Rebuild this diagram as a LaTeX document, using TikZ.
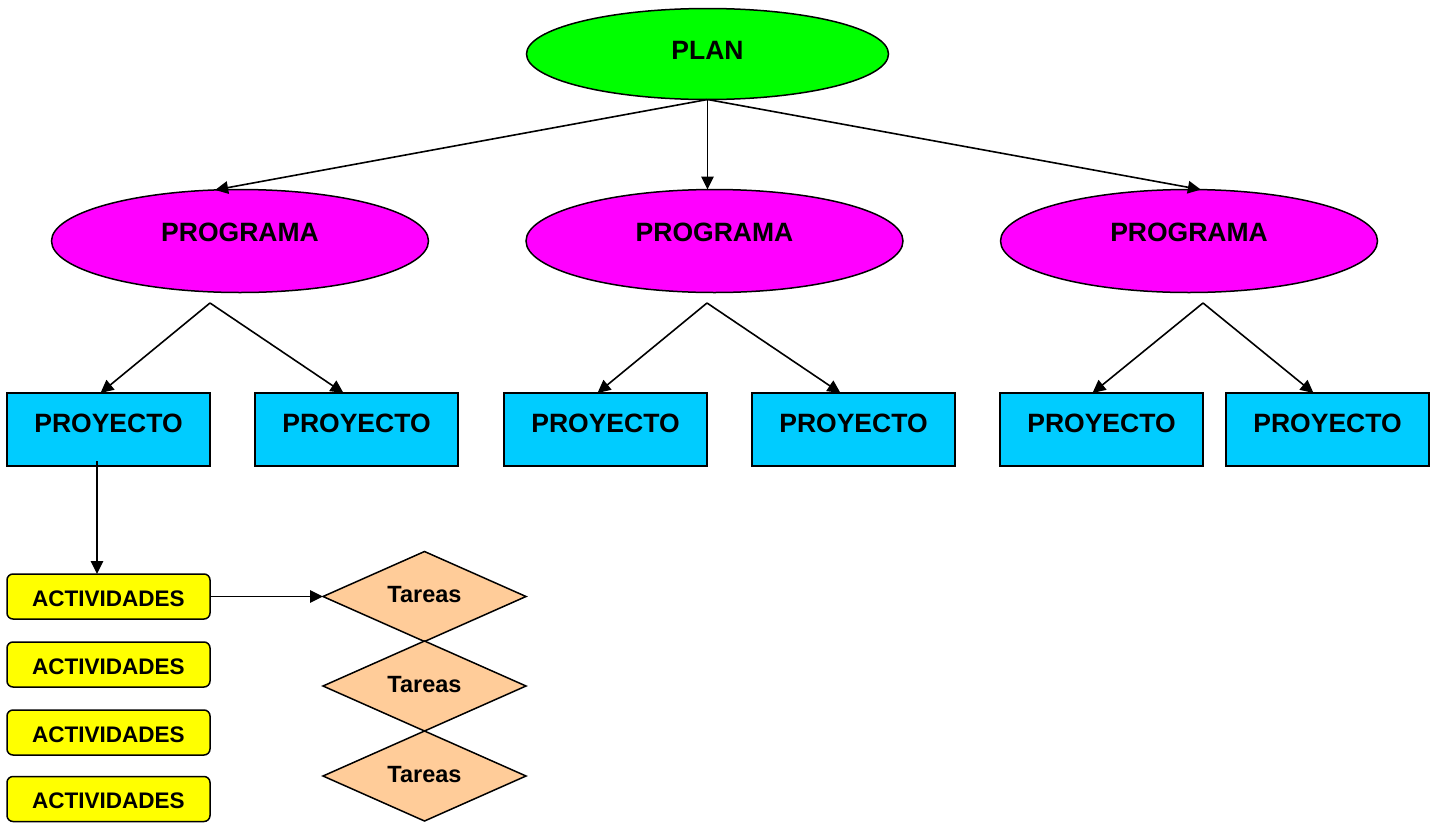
\documentclass[tikz,border=0pt]{standalone}
\usepackage{fontspec}
\setmainfont{Liberation Sans}
\usetikzlibrary{shapes.geometric,arrows.meta,calc}
\definecolor{plangreen}{RGB}{0,255,0}
\definecolor{progmag}{RGB}{255,0,255}
\definecolor{proycyan}{RGB}{0,204,255}
\definecolor{actyellow}{RGB}{255,255,0}
\definecolor{tarpeach}{RGB}{255,204,153}
\tikzset{
  shp/.style={draw=black, line width=1.5pt, inner sep=0pt, outer sep=0pt},
  planshape/.style={shp, ellipse, fill=plangreen, minimum width=362pt, minimum height=91pt},
  progshape/.style={shp, ellipse, fill=progmag, minimum width=377pt, minimum height=103pt},
  proyshape/.style={shp, rectangle, fill=proycyan, minimum width=203pt, minimum height=73pt},
  actshape/.style={shp, rectangle, rounded corners=6pt, fill=actyellow, minimum width=203pt, minimum height=45pt},
  tarshape/.style={shp, diamond, fill=tarpeach, minimum width=203pt, minimum height=90pt},
  bigtxt/.style={inner sep=0pt, font=\fontsize{26.5pt}{30pt}\selectfont\bfseries},
  midtxt/.style={inner sep=0pt, font=\fontsize{22.5pt}{26pt}\selectfont\bfseries},
  tartxt/.style={inner sep=0pt, font=\fontsize{23.5pt}{27pt}\selectfont\bfseries},
  conn/.style={line width=1.6pt, -{Triangle[length=13pt,width=12.5pt]}},
}
\begin{document}
\begin{tikzpicture}[x=1pt,y=1pt]
\useasboundingbox (0,0) rectangle (1437,-822);
% PLAN
\node[planshape] (plan) at (707.5,-54) {};
\node[bigtxt] (plan-t) at (707.5,-50) {PLAN};
% PROGRAMAS
\node[progshape] (prog1) at (240,-241) {};
\node[progshape] (prog2) at (714.5,-241) {};
\node[progshape] (prog3) at (1189,-241) {};
\node[bigtxt] (prog1-t) at (240,-232) {PROGRAMA};
\node[bigtxt] (prog2-t) at (714.5,-232) {PROGRAMA};
\node[bigtxt] (prog3-t) at (1189,-232) {PROGRAMA};
% PROYECTOS
\node[proyshape] (p1) at (108.5,-429.5) {};
\node[proyshape] (p2) at (356.5,-429.5) {};
\node[proyshape] (p3) at (605.5,-429.5) {};
\node[proyshape] (p4) at (853.5,-429.5) {};
\node[proyshape] (p5) at (1101.5,-429.5) {};
\node[proyshape] (p6) at (1327.5,-429.5) {};
\foreach \i/\x in {1/108.5,2/356.5,3/605.5,4/853.5,5/1101.5,6/1327.5}
  \node[bigtxt] (p\i-t) at (\x,-423) {PROYECTO};
% ACTIVIDADES
\node[actshape] (a1) at (108.5,-596.5) {};
\node[actshape] (a2) at (108.5,-664.5) {};
\node[actshape] (a3) at (108.5,-732.5) {};
\node[actshape] (a4) at (108.5,-799) {};
\foreach \i/\y in {1/-598.5,2/-666.5,3/-734.5,4/-801}
  \node[midtxt] (a\i-t) at (108.5,\y) {ACTIVIDADES};
% TAREAS
\node[tarshape] (t1) at (424.5,-596.5) {};
\node[tarshape] (t2) at (424.5,-686) {};
\node[tarshape] (t3) at (424.5,-776) {};
\foreach \i/\y in {1/-594.5,2/-684.5,3/-774.5}
  \node[tartxt] (t\i-t) at (424.5,\y) {Tareas};
% connectors
\draw[conn] (plan.south) -- (prog1.116);
\draw[conn] (plan.south) -- (prog2.north -| plan.south);
\draw[conn] (plan.south) -- (prog3.77);
\coordinate (g1) at (210,-303);
\coordinate (g2) at (707,-303);
\coordinate (g3) at (1203,-303);
\draw[conn] (g1) -- ($(p1.north)+(-8,0)$);
\draw[conn] (g1) -- ($(p2.north)+(-13,0)$);
\draw[conn] (g2) -- ($(p3.north)+(-8,0)$);
\draw[conn] (g2) -- ($(p4.north)+(-13,0)$);
\draw[conn] (g3) -- ($(p5.north)+(-9,0)$);
\draw[conn] (g3) -- ($(p6.north)+(-14,0)$);
\coordinate (p1o) at (97,-461);
\draw[conn] (p1o) -- (p1o |- a1.north);
\draw[conn] (a1.east) -- (t1.west);
\end{tikzpicture}
\end{document}
